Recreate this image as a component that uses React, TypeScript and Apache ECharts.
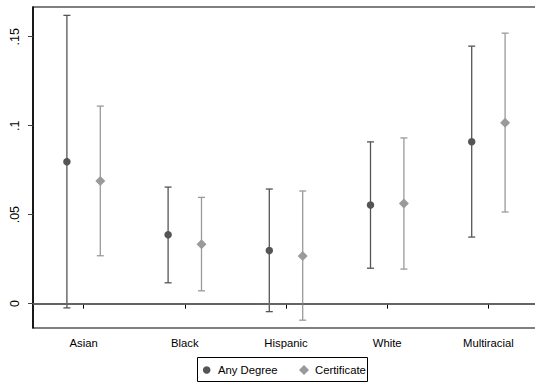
import React, { useEffect, useRef } from "react";
import * as echarts from "echarts";

const categories = ["Asian", "Black", "Hispanic", "White", "Multiracial"];
const anyDegree = [0.0798, 0.0387, 0.0298, 0.0554, 0.091];
const anyLow = [-0.0024, 0.0117, -0.0045, 0.0199, 0.0374];
const anyHigh = [0.162, 0.0655, 0.0644, 0.0909, 0.1447];
const certificate = [0.0689, 0.0334, 0.0267, 0.0563, 0.1016];
const certLow = [0.0269, 0.0072, -0.0093, 0.0194, 0.0515];
const certHigh = [0.111, 0.0597, 0.0633, 0.0931, 0.152];
const yTicks = [0, 0.05, 0.1, 0.15];
const yTickLabels = ["0", ".05", ".1", ".15"];

const OFFSET = 0.165;
const DARK = "#555555";
const LIGHT = "#9a9a9a";
const FONT = "'Liberation Sans', Arial, Helvetica, sans-serif";

function errorBars(color: string) {
  return (params: any, api: any) => {
    const x = api.value(0);
    const lo = api.coord([x, api.value(1)]);
    const hi = api.coord([x, api.value(2)]);
    const cap = 3.5;
    const style = { stroke: color, lineWidth: 1.3 };
    return {
      type: "group",
      children: [
        { type: "line", shape: { x1: lo[0], y1: lo[1], x2: hi[0], y2: hi[1] }, style },
        { type: "line", shape: { x1: lo[0] - cap, y1: lo[1], x2: lo[0] + cap, y2: lo[1] }, style },
        { type: "line", shape: { x1: hi[0] - cap, y1: hi[1], x2: hi[0] + cap, y2: hi[1] }, style },
      ],
    };
  };
}

export default function App() {
  const ref = useRef<HTMLDivElement>(null);
  useEffect(() => {
    if (!ref.current) return;
    const chart = echarts.init(ref.current, null, { renderer: "svg" });
    const catPos = categories.map((_, i) => i + 1);
    const anyX = catPos.map((p) => p - OFFSET);
    const certX = catPos.map((p) => p + OFFSET);
    chart.setOption({
      animation: false,
      backgroundColor: "#ffffff",
      grid: {
        left: 33,
        right: 0,
        top: 7,
        bottom: 55,
        show: true,
        borderColor: "#000",
        borderWidth: 1.2,
        backgroundColor: "#fff",
      },
      xAxis: {
        type: "value",
        min: 0.5,
        max: 5.5,
        axisLine: { show: true, lineStyle: { color: "#000", width: 1.5 } },
        axisTick: {
          show: true,
          length: 5,
          lineStyle: { color: "#000", width: 1 },
          customValues: catPos,
        },
        axisLabel: {
          customValues: catPos,
          formatter: (v: number) => categories[Math.round(v) - 1] ?? "",
          color: "#000",
          fontFamily: FONT,
          fontSize: 11.3,
          margin: 9,
        },
        splitLine: { show: false },
      },
      yAxis: {
        type: "value",
        min: -0.0137,
        max: 0.1667,
        axisLine: { show: true, lineStyle: { color: "#000", width: 1.5 } },
        axisTick: {
          show: true,
          length: 5,
          lineStyle: { color: "#444", width: 1 },
          customValues: yTicks,
        },
        axisLabel: {
          customValues: yTicks,
          formatter: (v: number) => {
            const i = yTicks.findIndex((t) => Math.abs(t - v) < 1e-9);
            return i >= 0 ? yTickLabels[i] : "";
          },
          rotate: 90,
          color: "#000",
          fontFamily: FONT,
          fontSize: 12.5,
          margin: 12,
        },
        splitLine: { show: false },
      },
      series: [
        {
          type: "custom",
          name: "anyBars",
          renderItem: errorBars(DARK),
          data: anyX.map((x, i) => [x, anyLow[i], anyHigh[i]]),
          encode: { x: 0, y: [1, 2] },
          z: 3,
          markLine: {
            silent: true,
            symbol: "none",
            label: { show: false },
            lineStyle: { color: "#707070", width: 1.5, type: "solid" },
            data: [{ yAxis: 0 }],
          },
        },
        {
          type: "custom",
          name: "certBars",
          renderItem: errorBars(LIGHT),
          data: certX.map((x, i) => [x, certLow[i], certHigh[i]]),
          encode: { x: 0, y: [1, 2] },
          z: 3,
        },
        {
          type: "scatter",
          name: "Any Degree",
          symbol: "circle",
          symbolSize: 7.5,
          itemStyle: { color: DARK, opacity: 1 },
          data: anyX.map((x, i) => [x, anyDegree[i]]),
          z: 5,
        },
        {
          type: "scatter",
          name: "Certificate",
          symbol: "diamond",
          symbolSize: 10,
          itemStyle: { color: LIGHT, opacity: 1 },
          data: certX.map((x, i) => [x, certificate[i]]),
          z: 5,
        },
      ],
      graphic: [
        {
          type: "rect",
          shape: { x: 197.5, y: 357.5, width: 170, height: 24 },
          style: { fill: "#fff", stroke: "#000", lineWidth: 1 },
        },
        {
          type: "circle",
          shape: { cx: 206.7, cy: 370, r: 3.8 },
          style: { fill: DARK },
        },
        {
          type: "text",
          x: 218,
          y: 370,
          style: {
            text: "Any Degree",
            fill: "#000",
            font: `11.3px ${FONT}`,
            verticalAlign: "middle",
          },
        },
        {
          type: "polygon",
          shape: {
            points: [
              [304, 365],
              [309, 370],
              [304, 375],
              [299, 370],
            ],
          },
          style: { fill: LIGHT },
        },
        {
          type: "text",
          x: 315,
          y: 370,
          style: {
            text: "Certificate",
            fill: "#000",
            font: `11.3px ${FONT}`,
            verticalAlign: "middle",
          },
        },
      ],
    });
    return () => chart.dispose();
  }, []);
  return (
    <div
      ref={ref}
      style={{ position: "fixed", left: 0, top: 0, width: 539, height: 383, background: "#fff" }}
    />
  );
}
